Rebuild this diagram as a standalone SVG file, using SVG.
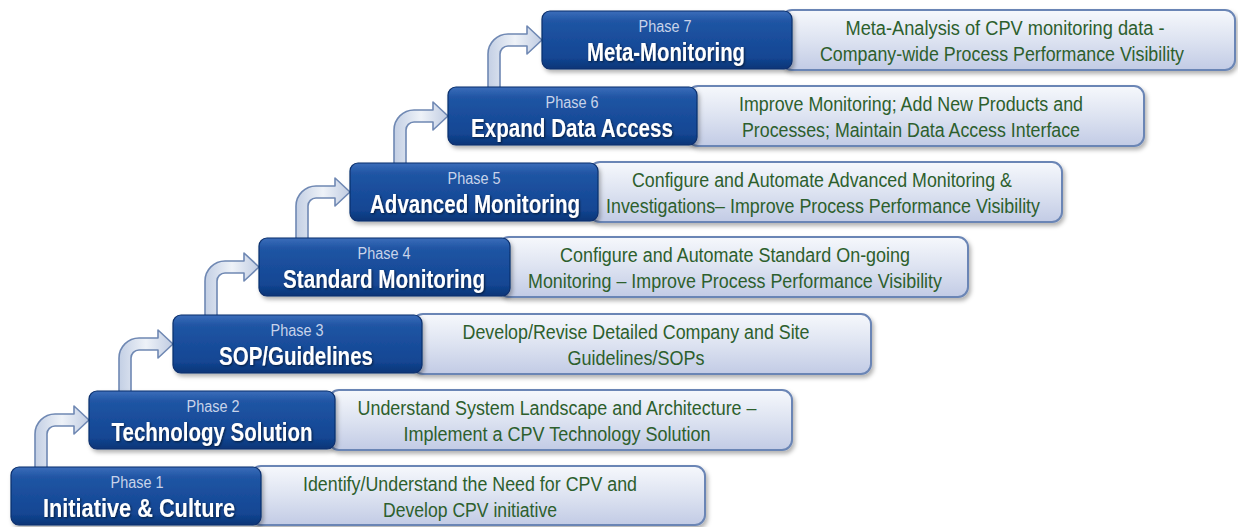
<svg xmlns="http://www.w3.org/2000/svg" width="1238" height="527" viewBox="0 0 1238 527">
<defs>
<linearGradient id="gBlue" x1="0" y1="0" x2="0" y2="1">
<stop offset="0" stop-color="#3b6dba"/>
<stop offset="0.18" stop-color="#2055a4"/>
<stop offset="0.8" stop-color="#134693"/>
<stop offset="1" stop-color="#0b3577"/>
</linearGradient>
<linearGradient id="gLight" x1="0" y1="0" x2="0" y2="1">
<stop offset="0" stop-color="#f6f8fc"/>
<stop offset="0.5" stop-color="#dde3f1"/>
<stop offset="1" stop-color="#c2cbe5"/>
</linearGradient>
<linearGradient id="gArrow" x1="0" y1="0" x2="1" y2="0">
<stop offset="0" stop-color="#c3cfe4"/>
<stop offset="0.5" stop-color="#eef2f8"/>
<stop offset="1" stop-color="#c0cce2"/>
</linearGradient>
<filter id="sh" x="-10%" y="-20%" width="125%" height="160%">
<feDropShadow dx="2" dy="3" stdDeviation="2" flood-color="#000" flood-opacity="0.3"/>
</filter>
<filter id="tsh" x="-5%" y="-30%" width="110%" height="160%">
<feDropShadow dx="1" dy="1" stdDeviation="0.8" flood-color="#000" flood-opacity="0.6"/>
</filter>
</defs>
<style>
.blue{fill:url(#gBlue);stroke:#0a2f6c;stroke-width:1.2}
.light{fill:url(#gLight);stroke:#6a85b5;stroke-width:2}
.arrow{fill:url(#gArrow);stroke:#6f88b3;stroke-width:1.6;stroke-linejoin:round}
text{font-family:"Liberation Sans Narrow","Liberation Sans",Arial,sans-serif;text-anchor:middle}
.ph{font-size:16px;fill:#c8d3ea}
.ti{font-size:25px;font-weight:bold;fill:#ffffff}
.de{font-size:19.5px;fill:#2d5f2d}
</style>
<rect width="1238" height="527" fill="#ffffff"/>
<g id="connectors">
<path class="arrow" d="M35,470 L35,434 A20,20 0 0 1 55,414 L74,414 L74,406 L89,420 L74,434 L74,426 L55,426 A8,8 0 0 0 47,434 L47,470 Z"/>
<path class="arrow" d="M119,395 L119,358 A20,20 0 0 1 139,338 L158,338 L158,330 L173,344 L158,358 L158,350 L139,350 A8,8 0 0 0 131,358 L131,395 Z"/>
<path class="arrow" d="M205,319 L205,281 A20,20 0 0 1 225,261 L244,261 L244,253 L259,267 L244,281 L244,273 L225,273 A8,8 0 0 0 217,281 L217,319 Z"/>
<path class="arrow" d="M296,242 L296,206 A20,20 0 0 1 316,186 L335,186 L335,178 L350,192 L335,206 L335,198 L316,198 A8,8 0 0 0 308,206 L308,242 Z"/>
<path class="arrow" d="M394,167 L394,130 A20,20 0 0 1 414,110 L433,110 L433,102 L448,116 L433,130 L433,122 L414,122 A8,8 0 0 0 406,130 L406,167 Z"/>
<path class="arrow" d="M488,91 L488,54 A20,20 0 0 1 508,34 L527,34 L527,26 L542,40 L527,54 L527,46 L508,46 A8,8 0 0 0 500,54 L500,91 Z"/>
</g>
<g id="phase1">
<rect class="light" x="251" y="466" width="454" height="59" rx="10" filter="url(#sh)"/>
<rect class="blue" x="11" y="467" width="250" height="58" rx="8" filter="url(#sh)"/>
<text class="ph" x="137" y="488" textLength="53" lengthAdjust="spacingAndGlyphs">Phase 1</text>
<text class="ti" x="139" y="517" textLength="192" lengthAdjust="spacingAndGlyphs" filter="url(#tsh)">Initiative &amp; Culture</text>
<text class="de" x="470" y="491" textLength="334" lengthAdjust="spacingAndGlyphs">Identify/Understand the Need for CPV and</text>
<text class="de" x="470" y="517" textLength="174" lengthAdjust="spacingAndGlyphs">Develop CPV initiative</text>
</g>
<g id="phase2">
<rect class="light" x="329" y="390" width="463" height="60" rx="10" filter="url(#sh)"/>
<rect class="blue" x="89" y="391" width="246" height="58" rx="8" filter="url(#sh)"/>
<text class="ph" x="213" y="412" textLength="53" lengthAdjust="spacingAndGlyphs">Phase 2</text>
<text class="ti" x="212" y="441" textLength="201" lengthAdjust="spacingAndGlyphs" filter="url(#tsh)">Technology Solution</text>
<text class="de" x="557" y="415" textLength="399" lengthAdjust="spacingAndGlyphs">Understand System Landscape and Architecture –</text>
<text class="de" x="557" y="441" textLength="307" lengthAdjust="spacingAndGlyphs">Implement a CPV Technology Solution</text>
</g>
<g id="phase3">
<rect class="light" x="413" y="314" width="458" height="60" rx="10" filter="url(#sh)"/>
<rect class="blue" x="173" y="315" width="249" height="58" rx="8" filter="url(#sh)"/>
<text class="ph" x="297" y="336" textLength="53" lengthAdjust="spacingAndGlyphs">Phase 3</text>
<text class="ti" x="296" y="365" textLength="154" lengthAdjust="spacingAndGlyphs" filter="url(#tsh)">SOP/Guidelines</text>
<text class="de" x="636" y="339" textLength="347" lengthAdjust="spacingAndGlyphs">Develop/Revise Detailed Company and Site</text>
<text class="de" x="636" y="365" textLength="137" lengthAdjust="spacingAndGlyphs">Guidelines/SOPs</text>
</g>
<g id="phase4">
<rect class="light" x="499" y="237" width="469" height="60" rx="10" filter="url(#sh)"/>
<rect class="blue" x="259" y="238" width="251" height="58" rx="8" filter="url(#sh)"/>
<text class="ph" x="384" y="259" textLength="53" lengthAdjust="spacingAndGlyphs">Phase 4</text>
<text class="ti" x="384" y="288" textLength="202" lengthAdjust="spacingAndGlyphs" filter="url(#tsh)">Standard Monitoring</text>
<text class="de" x="735" y="262" textLength="350" lengthAdjust="spacingAndGlyphs">Configure and Automate Standard On-going</text>
<text class="de" x="735" y="288" textLength="414" lengthAdjust="spacingAndGlyphs">Monitoring – Improve Process Performance Visibility</text>
</g>
<g id="phase5">
<rect class="light" x="590" y="162" width="472" height="60" rx="10" filter="url(#sh)"/>
<rect class="blue" x="350" y="163" width="248" height="58" rx="8" filter="url(#sh)"/>
<text class="ph" x="474" y="184" textLength="53" lengthAdjust="spacingAndGlyphs">Phase 5</text>
<text class="ti" x="475" y="213" textLength="210" lengthAdjust="spacingAndGlyphs" filter="url(#tsh)">Advanced Monitoring</text>
<text class="de" x="822" y="187" textLength="380" lengthAdjust="spacingAndGlyphs">Configure and Automate Advanced Monitoring &amp;</text>
<text class="de" x="823" y="213" textLength="434" lengthAdjust="spacingAndGlyphs">Investigations– Improve Process Performance Visibility</text>
</g>
<g id="phase6">
<rect class="light" x="688" y="86" width="456" height="60" rx="10" filter="url(#sh)"/>
<rect class="blue" x="448" y="87" width="249" height="58" rx="8" filter="url(#sh)"/>
<text class="ph" x="572" y="108" textLength="53" lengthAdjust="spacingAndGlyphs">Phase 6</text>
<text class="ti" x="572" y="137" textLength="202" lengthAdjust="spacingAndGlyphs" filter="url(#tsh)">Expand Data Access</text>
<text class="de" x="911" y="111" textLength="344" lengthAdjust="spacingAndGlyphs">Improve Monitoring; Add New Products and</text>
<text class="de" x="911" y="137" textLength="338" lengthAdjust="spacingAndGlyphs">Processes; Maintain Data Access Interface</text>
</g>
<g id="phase7">
<rect class="light" x="782" y="10" width="453" height="60" rx="10" filter="url(#sh)"/>
<rect class="blue" x="542" y="11" width="250" height="58" rx="8" filter="url(#sh)"/>
<text class="ph" x="665" y="32" textLength="53" lengthAdjust="spacingAndGlyphs">Phase 7</text>
<text class="ti" x="666" y="61" textLength="158" lengthAdjust="spacingAndGlyphs" filter="url(#tsh)">Meta-Monitoring</text>
<text class="de" x="1005" y="35" textLength="319" lengthAdjust="spacingAndGlyphs">Meta-Analysis of CPV monitoring data -</text>
<text class="de" x="1002" y="61" textLength="364" lengthAdjust="spacingAndGlyphs">Company-wide Process Performance Visibility</text>
</g>
</svg>
